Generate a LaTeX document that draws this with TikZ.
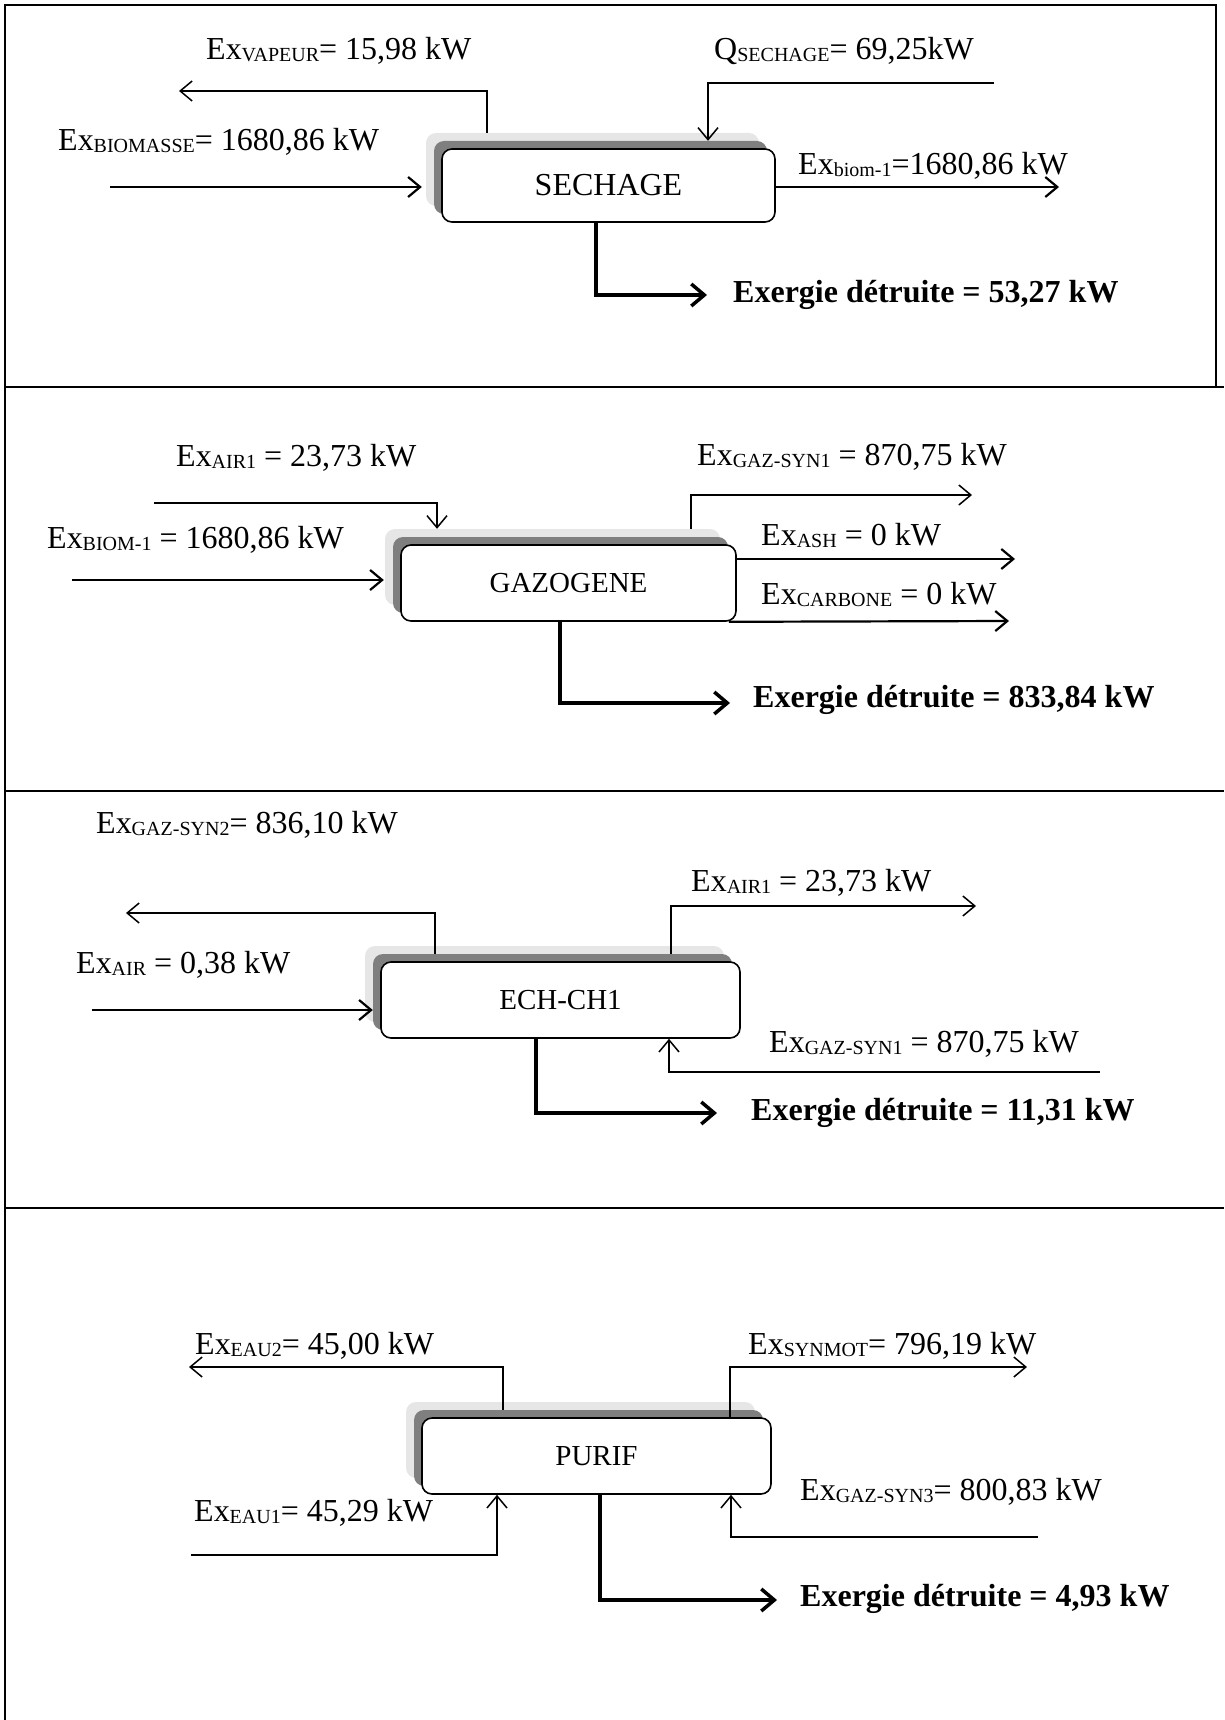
\documentclass[tikz,border=0pt]{standalone}
\usepackage{fontspec}
\setmainfont{Liberation Serif}
\usetikzlibrary{arrows.meta,calc}
\newcommand{\lsb}[1]{\raisebox{-2pt}{\fontsize{20}{20}\selectfont #1}}
\definecolor{shlight}{HTML}{E6E6E6}
\definecolor{shdark}{HTML}{7F7F7F}
\tikzset{
  lbl/.style={inner sep=0pt, anchor=base west, font=\fontsize{32}{38}\selectfont},
  lossl/.style={lbl, font=\fontsize{32}{38}\selectfont\bfseries},
  unitbox/.style={draw, line width=1.6pt, fill=white, rounded corners=10pt, inner sep=0pt, font=\fontsize{29}{34}\selectfont},
  shadowL/.style={fill=shlight, rounded corners=10pt, inner sep=0pt},
  shadowD/.style={fill=shdark, rounded corners=10pt, inner sep=0pt},
  flowthin/.style={line width=1.5pt, -{Straight Barb[length=12pt,width=20pt]}},
  flowmain/.style={line width=2.2pt, -{Straight Barb[length=12pt,width=20pt]}},
  flowloss/.style={line width=3.5pt, -{Straight Barb[length=13pt,width=22pt]}},
  frameline/.style={line width=2pt}
}
\begin{document}
\begin{tikzpicture}[x=1pt,y=-1pt]
\useasboundingbox (0,0) rectangle (1224,1720);
% frame
\draw[frameline] (5,1720) -- (5,5) -- (1216,5) -- (1216,387);
\draw[frameline] (5,387) -- (1224,387);
\draw[frameline] (5,791) -- (1224,791);
\draw[frameline] (5,1208) -- (1224,1208);

% ===== Section 1 : SECHAGE =====
\node[shadowL, minimum width=333pt, minimum height=73pt] (b1L) at (592.5,169.5) {};
\node[shadowD, minimum width=333pt, minimum height=73pt] (b1D) at (600.5,177.5) {};
\node[unitbox, minimum width=333pt, minimum height=73pt, font=\fontsize{32}{38}\selectfont] (b1) at (608.5,185.5) {SECHAGE};

\node[lbl] (l1a) at (206,60) {Ex\lsb{VAPEUR}= 15,98 kW};
\node[lbl] (l1b) at (714,60) {Q\lsb{SECHAGE}= 69,25kW};
\node[lbl] (l1c) at (58,151) {Ex\lsb{BIOMASSE}= 1680,86 kW};
\node[lbl] (l1d) at (798,175) {Ex\lsb{biom-1}=1680,86 kW};
\node[lossl] (l1e) at (733,302) {Exergie détruite = 53,27 kW};

\coordinate (k1a) at (487,91);
\coordinate (e1a) at (179,91);
\draw[flowthin] (k1a |- b1L.north) -- (k1a) -- (e1a);
\coordinate (s1q) at (994,83);
\coordinate (k1q) at (708,83);
\draw[flowthin] (s1q) -- (k1q) -- (k1q |- b1D.north);
\coordinate (s1b) at (110,187);
\draw[flowmain, shorten >=4pt] (s1b) -- (s1b -| b1L.west);
\coordinate (e1c) at (1059,187);
\draw[flowmain] (e1c -| b1.east) -- (e1c);
\coordinate (k1d) at (596,295);
\coordinate (e1d) at (707,295);
\draw[flowloss] (k1d |- b1.south) -- (k1d) -- (e1d);

% ===== Section 2 : GAZOGENE =====
\node[shadowL, minimum width=335pt, minimum height=76pt] (b2L) at (552.5,567) {};
\node[shadowD, minimum width=335pt, minimum height=76pt] (b2D) at (560.5,575) {};
\node[unitbox, minimum width=335pt, minimum height=76pt] (b2) at (568.5,583) {GAZOGENE};

\node[lbl] (l2a) at (176,466) {Ex\lsb{AIR1} = 23,73 kW};
\node[lbl] (l2b) at (47,548) {Ex\lsb{BIOM-1} = 1680,86 kW};
\node[lbl] (l2c) at (697,465) {Ex\lsb{GAZ-SYN1} = 870,75 kW};
\node[lbl] (l2d) at (761,545) {Ex\lsb{ASH} = 0 kW};
\node[lbl] (l2e) at (761,604) {Ex\lsb{CARBONE} = 0 kW};
\node[lossl] (l2f) at (753,707) {Exergie détruite = 833,84 kW};

\coordinate (s2a) at (154,503);
\coordinate (k2a) at (437,503);
\draw[flowthin] (s2a) -- (k2a) -- (k2a |- b2L.north);
\coordinate (s2b) at (72,580);
\draw[flowmain, shorten >=1pt] (s2b) -- (s2b -| b2L.west);
\coordinate (k2g) at (691,495);
\coordinate (e2g) at (972,495);
\draw[flowthin] (k2g |- b2L.north) -- (k2g) -- (e2g);
\coordinate (e2h) at (1015,559);
\draw[flowmain] (e2h -| b2.east) -- (e2h);
\coordinate (e2c) at (1009,621);
\draw[flowmain] ($(b2.south east)+(-8,0)$) -- (e2c);
\coordinate (k2d) at (560,703);
\coordinate (e2d) at (730,703);
\draw[flowloss] (k2d |- b2.south) -- (k2d) -- (e2d);

% ===== Section 3 : ECH-CH1 =====
\node[shadowL, minimum width=359pt, minimum height=76pt] (b3L) at (544.5,984) {};
\node[shadowD, minimum width=359pt, minimum height=76pt] (b3D) at (552.5,992) {};
\node[unitbox, minimum width=359pt, minimum height=76pt] (b3) at (560.5,1000) {ECH-CH1};

\node[lbl] (l3a) at (96,833) {Ex\lsb{GAZ-SYN2}= 836,10 kW};
\node[lbl] (l3b) at (76,973) {Ex\lsb{AIR} = 0,38 kW};
\node[lbl] (l3c) at (691,891) {Ex\lsb{AIR1} = 23,73 kW};
\node[lbl] (l3d) at (769,1052) {Ex\lsb{GAZ-SYN1} = 870,75 kW};
\node[lossl] (l3e) at (751,1120) {Exergie détruite = 11,31 kW};

\coordinate (k3g) at (435,913);
\coordinate (e3g) at (126,913);
\draw[flowthin] (k3g |- b3D.north) -- (k3g) -- (e3g);
\coordinate (s3a) at (92,1010);
\draw[flowmain] (s3a) -- (s3a -| b3D.west);
\coordinate (k3b) at (671,906);
\coordinate (e3b) at (976,906);
\draw[flowthin] (k3b |- b3D.north) -- (k3b) -- (e3b);
\coordinate (s3c) at (1100,1072);
\coordinate (k3c) at (669,1072);
\draw[flowthin] (s3c) -- (k3c) -- (k3c |- b3.south);
\coordinate (k3d) at (536,1113);
\coordinate (e3d) at (717,1113);
\draw[flowloss] (k3d |- b3.south) -- (k3d) -- (e3d);

% ===== Section 4 : PURIF =====
\node[shadowL, minimum width=349pt, minimum height=76pt] (b4L) at (580.5,1440) {};
\node[shadowD, minimum width=349pt, minimum height=76pt] (b4D) at (588.5,1448) {};
\node[unitbox, minimum width=349pt, minimum height=76pt] (b4) at (596.5,1456) {PURIF};

\node[lbl] (l4a) at (195,1354) {Ex\lsb{EAU2}= 45,00 kW};
\node[lbl] (l4b) at (748,1354) {Ex\lsb{SYNMOT}= 796,19 kW};
\node[lbl] (l4c) at (194,1521) {Ex\lsb{EAU1}= 45,29 kW};
\node[lbl] (l4d) at (800,1500) {Ex\lsb{GAZ-SYN3}= 800,83 kW};
\node[lossl] (l4e) at (800,1606) {Exergie détruite = 4,93 kW};

\coordinate (k4a) at (503,1367);
\coordinate (e4a) at (189,1367);
\draw[flowthin] (k4a |- b4D.north) -- (k4a) -- (e4a);
\coordinate (k4b) at (730,1367);
\coordinate (e4b) at (1027,1367);
\draw[flowthin] (k4b |- b4.north) -- (k4b) -- (e4b);
\coordinate (s4c) at (191,1555);
\coordinate (k4c) at (497,1555);
\draw[flowthin] (s4c) -- (k4c) -- (k4c |- b4.south);
\coordinate (s4d) at (1038,1537);
\coordinate (k4d) at (731,1537);
\draw[flowthin] (s4d) -- (k4d) -- (k4d |- b4.south);
\coordinate (k4e) at (600,1600);
\coordinate (e4e) at (777,1600);
\draw[flowloss] (k4e |- b4.south) -- (k4e) -- (e4e);
\end{tikzpicture}
\end{document}
